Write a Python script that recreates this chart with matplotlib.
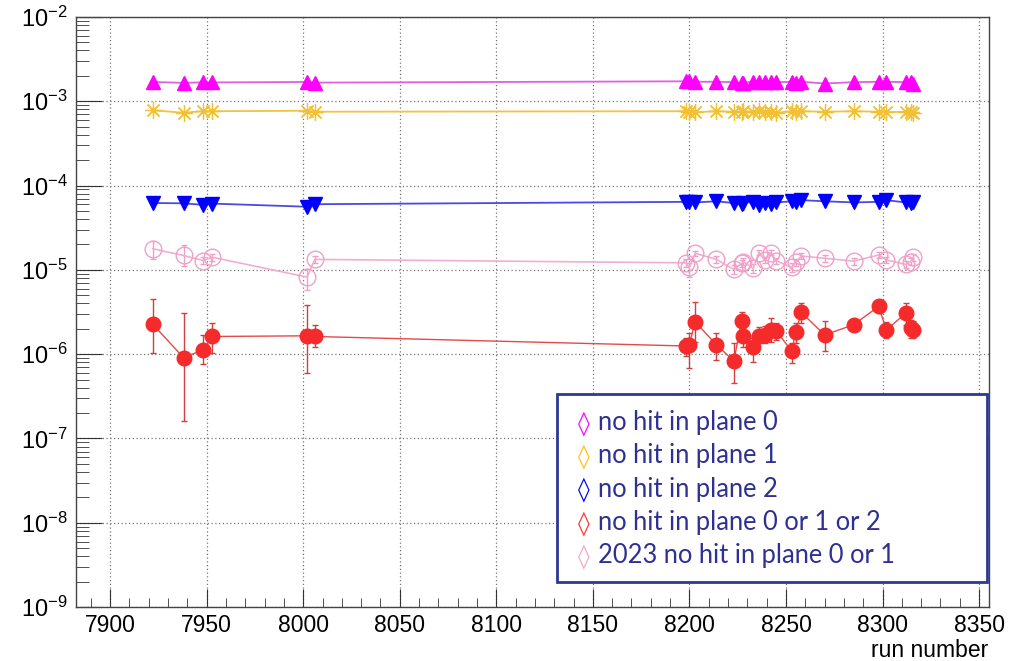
import numpy as np
import matplotlib
matplotlib.use('Agg')
import matplotlib.pyplot as plt
from matplotlib.ticker import MultipleLocator, FixedLocator, NullFormatter
from matplotlib.patches import Rectangle

plt.rcParams['font.family'] = ['Liberation Sans', 'DejaVu Sans']
plt.rcParams['mathtext.fontset'] = 'custom'
plt.rcParams['mathtext.rm'] = 'Liberation Sans'
plt.rcParams['mathtext.it'] = 'Liberation Sans'

# run numbers
runs = [7922, 7938, 7948, 7953, 8002, 8006,
        8198, 8200, 8203, 8214, 8223, 8227, 8228, 8233, 8236, 8239, 8242,
        8245, 8253, 8255, 8258, 8270, 8285, 8298, 8302, 8312, 8315, 8316]

# no hit in plane 0 (x1e-3)
plane0 = [1.69, 1.65, 1.67, 1.67, 1.69, 1.66,
          1.72, 1.75, 1.70, 1.70, 1.68, 1.64, 1.66, 1.70, 1.70, 1.70, 1.70,
          1.68, 1.70, 1.66, 1.70, 1.62, 1.68, 1.70, 1.70, 1.68, 1.70, 1.62]

# no hit in plane 1 (x1e-4)
plane1 = [7.8, 7.3, 7.6, 7.6, 7.7, 7.5,
          7.6, 7.5, 7.4, 7.6, 7.5, 7.4, 7.6, 7.5, 7.6, 7.4, 7.5,
          7.3, 7.6, 7.5, 7.6, 7.5, 7.6, 7.5, 7.4, 7.5, 7.4, 7.3]

# no hit in plane 2 (x1e-5)
plane2 = [6.2, 6.15, 5.9, 6.1, 5.6, 6.0,
          6.4, 6.3, 6.3, 6.5, 6.2, 6.0, 6.2, 6.4, 5.9, 6.2, 6.0,
          6.3, 6.5, 6.4, 6.7, 6.5, 6.3, 6.4, 6.7, 6.3, 6.2, 6.4]

# no hit in plane 0 or 1 or 2 (x1e-6)
any_plane = [2.27, 0.91, 1.12, 1.62, 1.65, 1.62,
             1.25, 1.30, 2.42, 1.29, 0.83, 2.48, 1.62, 1.20, 1.65, 1.68, 1.94,
             1.89, 1.08, 1.84, 3.12, 1.69, 2.23, 3.68, 1.94, 3.06, 2.02, 1.94]
any_up = [2.20, 2.15, 0.56, 0.71, 2.15, 0.58,
          0.30, 0.50, 1.77, 0.50, 0.51, 0.70, 0.40, 0.34, 0.46, 0.50, 0.72,
          0.43, 0.26, 0.48, 0.88, 0.80, 0.20, 0.50, 0.49, 1.02, 0.54, 0.50]
any_lo = [1.25, 0.75, 0.36, 0.59, 1.05, 0.41,
          0.30, 0.62, 1.02, 0.44, 0.38, 0.63, 0.40, 0.39, 0.31, 0.34, 0.54,
          0.42, 0.30, 0.50, 0.80, 0.59, 0.29, 0.63, 0.40, 0.85, 0.48, 0.40]

# 2023 no hit in plane 0 or 1 (x1e-5)
old_runs = runs
old_val = [1.78, 1.48, 1.29, 1.41, 0.82, 1.33,
           1.21, 1.07, 1.57, 1.33, 1.01, 1.19, 1.25, 1.04, 1.60, 1.31, 1.60,
           1.28, 1.07, 1.23, 1.46, 1.37, 1.27, 1.50, 1.31, 1.16, 1.25, 1.41]
old_up = [0.39, 0.50, 0.12, 0.12, 0.19, 0.12,
          0.12, 0.12, 0.12, 0.12, 0.12, 0.12, 0.12, 0.12, 0.12, 0.12, 0.12,
          0.12, 0.12, 0.12, 0.12, 0.12, 0.12, 0.12, 0.12, 0.12, 0.12, 0.12]
old_lo = [0.43, 0.36, 0.12, 0.12, 0.24, 0.12,
          0.12, 0.25, 0.12, 0.12, 0.12, 0.12, 0.12, 0.12, 0.12, 0.12, 0.12,
          0.12, 0.12, 0.12, 0.12, 0.12, 0.12, 0.12, 0.12, 0.12, 0.12, 0.12]

y_decades = [-9, -8, -7, -6, -5, -4, -3, -2]

legend_labels = ['no hit in plane 0', 'no hit in plane 1', 'no hit in plane 2',
                 'no hit in plane 0 or 1 or 2', '2023 no hit in plane 0 or 1']
legend_colors = ['#ff00ff', '#ffc20e', '#0000ff', '#ff3333', '#f4a6c8']

x = np.array(runs)

fig = plt.figure(figsize=(10.25, 6.61), dpi=100)
ax = fig.add_axes([0.0741, 0.0815, 0.8905, 0.8930])

# 2023 series (open pink circles)
ax.errorbar(old_runs, np.array(old_val) * 1e-5,
            yerr=[np.array(old_lo) * 1e-5, np.array(old_up) * 1e-5],
            color='#f2aed0', ecolor='#f0a0c8', lw=1.2, elinewidth=1.0, capsize=2,
            marker='o', ms=12, mfc='none', mec='#f0a0c8', mew=1.0, zorder=3)

# any plane (red filled circles)
ax.errorbar(x, np.array(any_plane) * 1e-6,
            yerr=[np.array(any_lo) * 1e-6, np.array(any_up) * 1e-6],
            color='#e84848', ecolor='#d04040', lw=1.0, elinewidth=1.0, capsize=2,
            marker='o', ms=10.5, mfc='#f52a2a', mec='#f52a2a', zorder=4)

ax.plot(x, np.array(plane2) * 1e-5, color='#4a4ae0', lw=1.3,
        marker='v', ms=10.5, mfc='#0000ff', mec='#0000ff', zorder=4)
ax.plot(x, np.array(plane1) * 1e-4, color='#f2c240', lw=1.3,
        marker=(8, 2, 0), ms=12, mec='#f2c030', mew=0.9, zorder=4)
ax.plot(x, np.array(plane0) * 1e-3, color='#e060e0', lw=1.3,
        marker='^', ms=10.5, mfc='#ff00ff', mec='#ff00ff', zorder=4)

ax.set_yscale('log')
ax.set_ylim(1e-9, 1e-2)
ax.set_xlim(7882.3, 8355)
ax.xaxis.set_major_locator(FixedLocator(np.arange(7900, 8351, 50)))
ax.xaxis.set_minor_locator(FixedLocator(np.arange(7890, 8351, 10)))
ax.yaxis.set_major_locator(FixedLocator([10.0 ** k for k in y_decades]))
ax.yaxis.set_minor_locator(FixedLocator([m * 10.0 ** k for k in y_decades[:-1]
                                         for m in range(2, 10)]))
ax.yaxis.set_minor_formatter(NullFormatter())

ax.tick_params(axis='both', which='both', direction='in', top=False, right=False,
               color='#333333', labelsize=16.5)
ax.tick_params(axis='x', which='major', length=13, pad=5)
ax.tick_params(axis='x', which='minor', length=6.5)
ax.tick_params(axis='y', which='major', length=18.5, pad=6, labelsize=17)
ax.tick_params(axis='y', which='minor', length=9.5)

ax.grid(True, which='major', color='#777777', linestyle=(0, (1, 2)), lw=0.9)
ax.set_axisbelow(True)
for s in ax.spines.values():
    s.set_color('#444444')
    s.set_linewidth(1.0)

ax.set_xlabel('run number', fontsize=16.5)
ax.xaxis.set_label_coords(1.0, -0.085)
ax.xaxis.label.set_ha('right')
ax.xaxis.label.set_va('baseline')

# legend box
fig.patches.append(Rectangle((0.5434, 0.1195), 0.4195, 0.2844, transform=fig.transFigure,
                             facecolor='white', edgecolor='#2b3990', lw=2, zorder=10))
y0 = 0.3495
dy = 0.0504
for i, (lab, col) in enumerate(zip(legend_labels, legend_colors)):
    yy = y0 - i * dy
    fig.text(0.5698, yy, '\u25ca', color=col, fontsize=17, ha='center', va='baseline',
             family=['DejaVu Sans'], zorder=11)
    fig.text(0.5834, yy, lab, color='#2e3192', fontsize=18.4, ha='left', va='baseline',
             family=['Lato', 'DejaVu Sans'], zorder=11)

fig.savefig('out.png', dpi=100)
